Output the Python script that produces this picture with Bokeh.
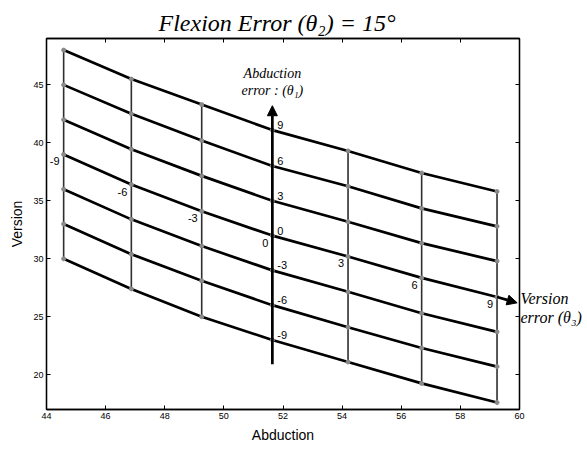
from bokeh.plotting import figure
from bokeh.models import (Range1d, LinearAxis, FixedTicker, Arrow, NormalHead,
                          Label, ColumnDataSource, CustomJSTickFormatter)
from bokeh.embed import file_html
from bokeh.resources import INLINE
from bokeh.core.properties import value

# ---------------- data ----------------
abduction = [44.58, 46.87, 49.25, 51.64, 54.2, 56.69, 59.24]
abduction_error_labels = ["-9", "-6", "-3", "0", "3", "6", "9"]
curve_labels = ["9", "6", "3", "0", "-3", "-6", "-9"]

version_p9 = [48.0, 45.5, 43.3, 41.1, 39.3, 37.4, 35.8]
version_p6 = [45.0, 42.5, 40.2, 38.0, 36.25, 34.35, 32.8]
version_p3 = [42.0, 39.45, 37.15, 35.0, 33.2, 31.35, 29.8]
version_0 = [39.0, 36.4, 34.1, 32.0, 30.2, 28.35, 26.7]
version_m3 = [36.0, 33.4, 31.1, 29.0, 27.15, 25.3, 23.7]
version_m6 = [33.0, 30.4, 28.1, 26.0, 24.1, 22.3, 20.7]
version_m9 = [30.0, 27.4, 25.0, 23.0, 21.1, 19.25, 17.6]
curves = [version_p9, version_p6, version_p3, version_0,
          version_m3, version_m6, version_m9]

abduction_arrow_x = 51.64
abduction_arrow_y = [20.9, 43.2]
version_arrow_tip = [59.92, 26.2]

x_ticks = [44, 46, 48, 50, 52, 54, 56, 58, 60]
y_ticks = [20, 25, 30, 35, 40, 45]
x_limits = [44, 60]
y_limits = [17, 49]

# ---------------- figure ----------------
p = figure(width=586, height=448, x_range=Range1d(*x_limits),
           y_range=Range1d(*y_limits), output_backend="svg",
           toolbar_location=None, min_border_left=46, min_border_right=67,
           min_border_top=38, min_border_bottom=39)
p.background_fill_color = "white"
p.border_fill_color = "white"
p.outline_line_color = "black"
p.outline_line_width = 1.3
p.xgrid.visible = False
p.ygrid.visible = False

p.title.text = "Flexion  Error  (\u03b8\u2082) = 15\u00b0"
p.title.align = "center"
p.title.text_font = "Liberation Serif"
p.title.text_font_style = "italic"
p.title.text_font_size = "24px"
p.title.text_color = "black"
p.title.standoff = 6

def style_axis(ax, ticks):
    ax.ticker = FixedTicker(ticks=ticks)
    ax.major_tick_in = 4
    ax.major_tick_out = 0
    ax.minor_tick_line_color = None
    ax.axis_line_color = "black"
    ax.axis_line_width = 1.3
    ax.major_tick_line_color = "black"
    ax.major_label_text_font = "Liberation Sans"
    ax.major_label_text_font_size = "9px"
    ax.major_label_text_color = "black"
    ax.major_label_standoff = 3

style_axis(p.xaxis[0], x_ticks)
style_axis(p.yaxis[0], y_ticks)
p.xaxis.axis_label = "Abduction"
p.yaxis.axis_label = "Version"
for ax in (p.xaxis[0], p.yaxis[0]):
    ax.axis_label_text_font = "Liberation Sans"
    ax.axis_label_text_font_style = "normal"
    ax.axis_label_text_font_size = "14px"
    ax.axis_label_text_color = "black"
    ax.axis_label_standoff = 5

blank = "return ''"
top_axis = LinearAxis(formatter=CustomJSTickFormatter(code=blank))
right_axis = LinearAxis(formatter=CustomJSTickFormatter(code=blank))
style_axis(top_axis, x_ticks)
style_axis(right_axis, y_ticks)
top_axis.major_label_standoff = 0
right_axis.major_label_standoff = 0
p.add_layout(top_axis, "above")
p.add_layout(right_axis, "right")

# caption of the version-error arrow, outside the frame on the right
# (leading empty lines push the two visible lines down beside the arrow tip)
caption_axis = LinearAxis(formatter=CustomJSTickFormatter(code=blank),
                          ticker=FixedTicker(ticks=[]))
caption_axis.axis_line_color = None
caption_axis.major_tick_line_color = None
caption_axis.minor_tick_line_color = None
caption_axis.major_label_standoff = 0
caption_axis.axis_label = "\n" * 9 + "Version\nerror (\u03b8\u2083)"
caption_axis.axis_label_orientation = "horizontal"
caption_axis.axis_label_standoff = 1
caption_axis.axis_label_text_font = "Liberation Serif"
caption_axis.axis_label_text_font_style = "italic"
caption_axis.axis_label_text_font_size = "16px"
caption_axis.axis_label_text_line_height = 1.1
caption_axis.axis_label_text_color = "black"
p.add_layout(caption_axis, "right")

# ---------------- vertical grid lines (constant abduction error) ----------------
src_v = ColumnDataSource(dict(x=[a for i, a in enumerate(abduction) if i != 3],
                              y0=[v for i, v in enumerate(version_m9) if i != 3],
                              y1=[v for i, v in enumerate(version_p9) if i != 3]))
p.segment(x0="x", y0="y0", x1="x", y1="y1", source=src_v,
          line_color="#2e2e2e", line_width=1.6)

# ---------------- curves (constant version error) ----------------
for c in curves:
    p.line(abduction, c, line_color="black", line_width=2.7)

# intersection markers
for c in curves:
    p.scatter(abduction, c, size=4, marker="circle",
              fill_color="#8a8a8a", line_color="#8a8a8a")

# ---------------- arrows ----------------
p.add_layout(Arrow(end=NormalHead(size=10, fill_color="black", line_color="black"),
                   x_start=abduction_arrow_x, y_start=abduction_arrow_y[0],
                   x_end=abduction_arrow_x, y_end=abduction_arrow_y[1],
                   line_color="black", line_width=2.7))
p.add_layout(Arrow(end=NormalHead(size=10, fill_color="black", line_color="black"),
                   x_start=abduction[-1], y_start=version_0[-1],
                   x_end=version_arrow_tip[0], y_end=version_arrow_tip[1],
                   line_color="black", line_width=2.7))

# ---------------- value labels ----------------
p.text(x=abduction, y=version_0, text=abduction_error_labels,
       text_font=value("Liberation Sans"), text_font_size="11px",
       text_align="right", text_baseline="top", x_offset=-4, y_offset=3,
       text_color="black")
p.text(x=[abduction_arrow_x] * len(curves), y=[c[3] for c in curves],
       text=curve_labels, text_font=value("Liberation Sans"),
       text_font_size="11px", text_align="left", text_baseline="bottom",
       x_offset=5, y_offset=-1, text_color="black")

# ---------------- arrow captions ----------------
serif = dict(text_font="Liberation Serif", text_font_style="italic",
             text_color="black")
p.add_layout(Label(x=abduction_arrow_x, y=abduction_arrow_y[1], text="Abduction",
                   text_align="center", text_baseline="bottom", y_offset=25,
                   text_font_size="14px", **serif))
p.add_layout(Label(x=abduction_arrow_x, y=abduction_arrow_y[1],
                   text="error : (\u03b8\u2081)",
                   text_align="center", text_baseline="bottom", y_offset=8,
                   text_font_size="14px", **serif))

open("out.html", "w").write(file_html(p, INLINE))
